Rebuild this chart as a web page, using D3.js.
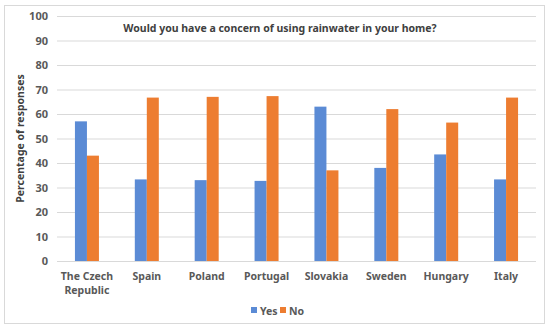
<!DOCTYPE html>
<html>
<head>
<meta charset="utf-8">
<script src="https://cdn.jsdelivr.net/npm/d3@7"></script>
<style>
  body { margin: 0; background: #fff; }
  text { font-family: "Noto Sans", "Open Sans", sans-serif; }
</style>
</head>
<body>
<svg width="550" height="330"></svg>
<script>
// data
var countries = ["The Czech Republic", "Spain", "Poland", "Portugal", "Slovakia", "Sweden", "Hungary", "Italy"];
var yesValues = [57, 33.3, 33, 32.7, 63, 38, 43.5, 33.3];
var noValues = [43, 66.7, 67, 67.3, 37, 62, 56.5, 66.7];
var seriesNames = ["Yes", "No"];
var yTicks = [0, 10, 20, 30, 40, 50, 60, 70, 80, 90, 100];

var colors = {Yes: "#5B8BD5", No: "#ED7D31"};

var svg = d3.select("svg");

// chart frame
svg.append("rect")
    .attr("x", 4.5).attr("y", 5.5)
    .attr("width", 540).attr("height", 318)
    .attr("fill", "#fff")
    .attr("stroke", "#d9d9d9");

var margin = {left: 57, right: 14, top: 16, bottom: 69};
var width = 550 - margin.left - margin.right,
    height = 330 - margin.top - margin.bottom;

var g = svg.append("g").attr("transform", "translate(" + margin.left + "," + margin.top + ")");

var x = d3.scaleBand().domain(countries).range([0, width]).paddingInner(0).paddingOuter(0);
var x1 = d3.scaleBand().domain(seriesNames).range([x.bandwidth() / 2 - 12, x.bandwidth() / 2 + 12]);
var y = d3.scaleLinear().domain([0, 100]).range([height, 0]);

// gridlines
g.append("g").selectAll("line")
    .data(yTicks)
    .enter().append("line")
    .attr("x1", 0).attr("x2", width)
    .attr("y1", function(d) { return y(d) + 0.5; })
    .attr("y2", function(d) { return y(d) + 0.5; })
    .attr("stroke", "#d9d9d9");

// y axis labels
var yAxis = g.append("g")
    .call(d3.axisLeft(y).tickValues(yTicks).tickSize(0).tickPadding(9));
yAxis.select(".domain").remove();
yAxis.selectAll("text")
    .attr("fill", "#595959")
    .style("font-size", "11px")
    .style("font-weight", "bold");

// bars
var rows = countries.map(function(c, i) {
  return {country: c, values: [{key: "Yes", v: yesValues[i]}, {key: "No", v: noValues[i]}]};
});

g.append("g").selectAll("g")
    .data(rows)
    .enter().append("g")
    .attr("transform", function(d) { return "translate(" + x(d.country) + ",0)"; })
  .selectAll("rect")
    .data(function(d) { return d.values; })
    .enter().append("rect")
    .attr("x", function(d) { return x1(d.key); })
    .attr("width", x1.bandwidth())
    .attr("y", function(d) { return y(d.v); })
    .attr("height", function(d) { return height - y(d.v); })
    .attr("fill", function(d) { return colors[d.key]; });

// x labels
var xl = g.append("g").selectAll("text")
    .data(countries)
    .enter().append("text")
    .attr("x", function(d) { return x(d) + x.bandwidth() / 2; })
    .attr("y", height + 19)
    .attr("text-anchor", "middle")
    .attr("fill", "#595959")
    .style("font-size", "10.5px")
    .style("font-weight", "bold");
xl.each(function(d) {
  var t = d3.select(this);
  if (d === "The Czech Republic") {
    t.append("tspan").attr("x", x(d) + x.bandwidth() / 2).text("The Czech");
    t.append("tspan").attr("x", x(d) + x.bandwidth() / 2).attr("dy", 13.5).text("Republic");
  } else {
    t.text(d);
  }
});

// title
svg.append("text")
    .attr("x", 280).attr("y", 32)
    .attr("text-anchor", "middle")
    .attr("fill", "#404040")
    .style("font-size", "10.5px")
    .style("font-weight", "bold")
    .text("Would you have a concern of using rainwater in your home?");

// y axis title
svg.append("text")
    .attr("transform", "translate(24," + (margin.top + height / 2) + ") rotate(-90)")
    .attr("text-anchor", "middle")
    .attr("fill", "#404040")
    .style("font-size", "10.5px")
    .style("font-weight", "bold")
    .text("Percentage of responses");

// legend
var legend = svg.append("g").attr("transform", "translate(251,311)");
var li = legend.selectAll("g")
    .data(seriesNames)
    .enter().append("g")
    .attr("transform", function(d, i) { return "translate(" + (i * 29) + ",0)"; });
li.append("rect")
    .attr("x", 0).attr("y", -4)
    .attr("width", 6).attr("height", 6)
    .attr("fill", function(d) { return colors[d]; });
li.append("text")
    .attr("x", 9).attr("y", 4)
    .attr("fill", "#595959")
    .style("font-size", "10.5px")
    .style("font-weight", "bold")
    .text(function(d) { return d; });
</script>
</body>
</html>
